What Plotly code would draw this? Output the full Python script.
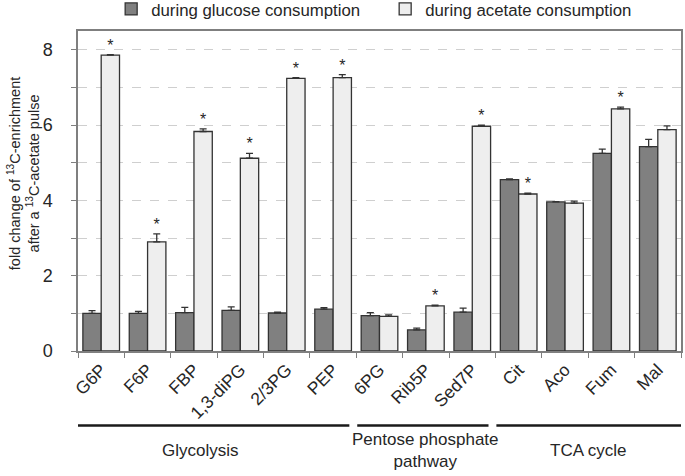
import plotly.graph_objects as go

categories = ["G6P", "F6P", "FBP", "1,3-diPG", "2/3PG", "PEP",
              "6PG", "Rib5P", "Sed7P", "Cit", "Aco", "Fum", "Mal"]
glucose_vals = [1.00, 1.00, 1.02, 1.08, 1.01, 1.11, 0.94, 0.56, 1.03, 4.55, 3.96, 5.25, 5.43]
glucose_err = [0.07, 0.05, 0.14, 0.09, 0.02, 0.04, 0.08, 0.05, 0.11, 0.02, 0.01, 0.11, 0.19]
acetate_vals = [7.86, 2.90, 5.83, 5.12, 7.24, 7.26, 0.92, 1.20, 5.97, 4.17, 3.93, 6.43, 5.88]
acetate_err = [0.01, 0.21, 0.07, 0.13, 0.02, 0.08, 0.04, 0.02, 0.03, 0.02, 0.05, 0.05, 0.10]
significant = [True, True, True, True, True, True, False, True, True, True, False, True, False]

group_names = ["Glycolysis", "Pentose phosphate<br>pathway", "TCA cycle"]
group_first = [0, 6, 9]
group_last = [5, 8, 12]

y_ticks = [0, 1, 2, 3, 4, 5, 6, 7, 8]
y_ticktext = ["0", " ", "2", " ", "4", " ", "6", " ", "8"]

FONT = "Liberation Sans, Arial, sans-serif"
TXT = "#262626"
idx = list(range(len(categories)))

fig = go.Figure()
fig.add_trace(go.Bar(
    x=idx, y=glucose_vals, name="during glucose consumption",
    marker=dict(color="#808080", line=dict(color="#333333", width=1.3)),
    error_y=dict(type="data", array=glucose_err, arrayminus=[0] * len(idx),
                 symmetric=False, color="#333333", thickness=1.3, width=3.5),
))
fig.add_trace(go.Bar(
    x=idx, y=acetate_vals, name="during acetate consumption",
    marker=dict(color="#eeeeee", line=dict(color="#333333", width=1.3)),
    error_y=dict(type="data", array=acetate_err, arrayminus=[0] * len(idx),
                 symmetric=False, color="#333333", thickness=1.3, width=3.5),
))

# asterisks above the acetate bars
bargap = 0.21
half_bar = (1 - bargap) / 4
sx = [i + half_bar for i, s in zip(idx, significant) if s]
sy = [v + e for v, e, s in zip(acetate_vals, acetate_err, significant) if s]
fig.add_trace(go.Scatter(
    x=sx, y=sy, mode="text", text=["*"] * len(sx), textposition="top center",
    textfont=dict(size=16, color=TXT, family=FONT), showlegend=False, hoverinfo="skip",
))

shapes = []
annotations = []
for n, (name, f, l) in enumerate(zip(group_names, group_first, group_last)):
    x0 = f - 0.5 - (0.03 if f == 0 else -0.02)
    x1 = l + 0.5 - 0.15 + (0.25 if n == len(group_names) - 1 else 0)
    shapes.append(dict(type="line", xref="x", yref="paper", x0=x0, x1=x1,
                       y0=-0.233, y1=-0.233, line=dict(color="#1a1a1a", width=2.5)))
    annotations.append(dict(xref="x", yref="paper", x=(f + l) / 2 - (0.35 if f == 0 else 0),
                            y=-0.312, text=name, showarrow=False, yanchor="middle",
                            font=dict(size=17, color=TXT, family=FONT)))

# y-axis title
annotations.append(dict(
    xref="paper", yref="paper", x=-0.091, y=0.553, xanchor="center", yanchor="middle",
    text="fold change of <sup>13</sup>C-enrichment<br>after a <sup>13</sup>C-acetate pulse",
    textangle=-90, showarrow=False, font=dict(size=14.5, color=TXT, family=FONT),
))

fig.update_layout(
    width=685, height=476,
    margin=dict(l=78, r=4, t=31, b=125, autoexpand=False),
    paper_bgcolor="white", plot_bgcolor="white",
    barmode="group", bargap=bargap, bargroupgap=0,
    font=dict(family=FONT, color=TXT, size=16),
    shapes=shapes, annotations=annotations,
    legend=dict(orientation="h", x=0.055, xanchor="left",
                yref="container", y=0.981, yanchor="middle",
                font=dict(size=16.8, color=TXT, family=FONT),
                entrywidth=229, entrywidthmode="pixels",
                bgcolor="rgba(0,0,0,0)", itemwidth=30),
    showlegend=True,
)
fig.update_xaxes(
    range=[-0.5, 12.5], tickmode="array", tickvals=idx, ticktext=categories,
    tickangle=-45, ticks="", tickfont=dict(size=17.5, color=TXT, family=FONT),
    showline=True, mirror=True, linecolor="#7f7f7f", linewidth=1.5,
    showgrid=False, zeroline=False, automargin=False,
    minor=dict(tick0=0.5, dtick=1, ticks="outside", ticklen=5, tickcolor="#7f7f7f", tickwidth=1),
)
fig.update_yaxes(
    range=[0, 8.5], tickmode="array", tickvals=y_ticks, ticktext=y_ticktext,
    ticks="outside", ticklen=5, tickcolor="#7f7f7f", tickwidth=1,
    tickfont=dict(size=18, color=TXT, family=FONT), ticklabelstandoff=15,
    showline=True, mirror=True, linecolor="#7f7f7f", linewidth=1.5,
    showgrid=True, gridcolor="#cfcfcf", griddash="dash", gridwidth=1, zeroline=False,
    automargin=False,
)

fig.write_html("out.html", config={"displayModeBar": False},
               post_script="document.body.style.margin='0';")
